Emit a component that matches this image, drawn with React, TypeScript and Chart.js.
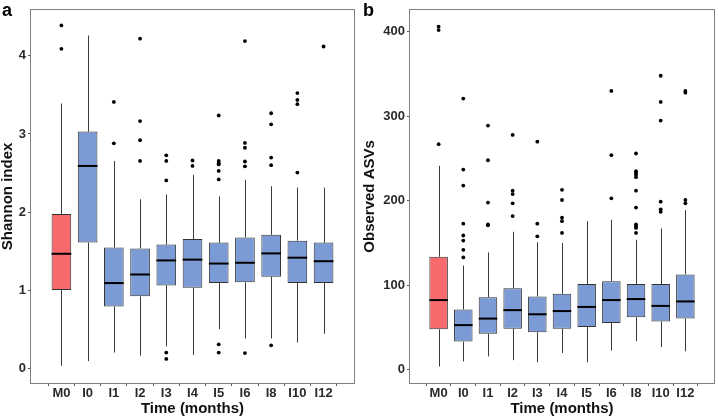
import { useEffect, useRef } from 'react';
import { Chart, registerables } from 'chart.js';
Chart.register(...registerables);

const FONT = '"Liberation Sans", Arial, sans-serif';

const categories = ['M0', 'I0', 'I1', 'I2', 'I3', 'I4', 'I5', 'I6', 'I8', 'I10', 'I12'];
const boxColors = ['#F8696B', '#7B9BD6', '#7B9BD6', '#7B9BD6', '#7B9BD6', '#7B9BD6', '#7B9BD6', '#7B9BD6', '#7B9BD6', '#7B9BD6', '#7B9BD6'];

// Panel a: Shannon index
const shannonLow = [0.03, 0.09, 0.2, 0.16, 0.28, 0.17, 0.5, 0.38, 0.38, 0.33, 0.44];
const shannonQ1 = [1.0, 1.61, 0.79, 0.92, 1.06, 1.03, 1.09, 1.1, 1.17, 1.09, 1.09];
const shannonMedian = [1.465, 2.59, 1.09, 1.2, 1.38, 1.39, 1.34, 1.35, 1.47, 1.415, 1.37];
const shannonQ3 = [1.975, 3.03, 1.545, 1.533, 1.583, 1.653, 1.608, 1.674, 1.708, 1.633, 1.608];
const shannonHigh = [3.39, 4.26, 2.655, 2.163, 2.225, 2.476, 2.2, 2.413, 2.33, 2.313, 2.313];
const shannonOutliers = [
  [4.39, 4.09],
  [],
  [3.41, 2.88],
  [4.22, 3.165, 2.92, 2.655],
  [2.726, 2.655, 2.405, 0.2, 0.118],
  [2.66, 2.59],
  [3.236, 2.655, 2.626, 2.61, 2.526, 2.417, 0.305, 0.2],
  [4.19, 2.885, 2.823, 2.647, 2.585, 0.193],
  [3.265, 3.123, 2.697, 2.6, 0.293],
  [3.524, 3.436, 3.381, 2.505],
  [4.12],
];
const shannonTicks = [0, 1, 2, 3, 4];

// Panel b: Observed ASVs
const asvLow = [4, 10, 16, 11.5, 9, 20, 9, 23, 34, 27, 22];
const asvQ1 = [48, 33.5, 42.7, 48.8, 44.5, 48.8, 50.8, 55.4, 62.3, 57.2, 60.7];
const asvMedian = [82.6, 53, 60.7, 70.7, 65.8, 69.6, 74.5, 82.6, 83.8, 75.7, 81];
const asvQ3 = [133.8, 71.5, 86, 96.5, 86.9, 90, 101.5, 105, 101.5, 101.5, 113];
const asvHigh = [241.5, 123.5, 139, 163.4, 151, 150.3, 176, 177.7, 154, 167.3, 189];
const asvOutliers = [
  [406, 402, 267],
  [321, 237, 218, 173, 159, 153, 142, 133],
  [289, 248, 198, 172, 171],
  [278, 212, 208, 197, 182],
  [270, 173, 158],
  [213, 201, 180, 176, 162],
  [],
  [330, 254, 203],
  [256, 235, 233, 231, 228, 212, 192, 172, 170, 168, 162],
  [348, 317, 295, 199, 190, 187],
  [330, 328, 201, 197],
];
const asvTicks = [0, 100, 200, 300, 400];

const boxExtras = {
  id: 'boxExtras',
  beforeDatasetsDraw(chart: any, _a: any, opts: any) {
    const { ctx } = chart;
    const x = chart.scales.x;
    const y = chart.scales.y;
    ctx.save();
    ctx.strokeStyle = '#3a3a3a';
    ctx.lineWidth = 1;
    opts.low.forEach((lo: number, i: number) => {
      const px = Math.round(x.getPixelForValue(i)) + 0.5;
      ctx.beginPath();
      ctx.moveTo(px, y.getPixelForValue(opts.q1[i]));
      ctx.lineTo(px, y.getPixelForValue(lo));
      ctx.moveTo(px, y.getPixelForValue(opts.q3[i]));
      ctx.lineTo(px, y.getPixelForValue(opts.high[i]));
      ctx.stroke();
    });
    ctx.restore();
  },
  afterDatasetsDraw(chart: any, _a: any, opts: any) {
    const { ctx } = chart;
    const y = chart.scales.y;
    const meta = chart.getDatasetMeta(0);
    ctx.save();
    ctx.strokeStyle = '#000';
    ctx.lineWidth = 2;
    meta.data.forEach((bar: any, i: number) => {
      const { x: cx, width } = bar.getProps(['x', 'width'], true);
      const py = y.getPixelForValue(opts.median[i]);
      ctx.beginPath();
      ctx.moveTo(cx - width / 2, py);
      ctx.lineTo(cx + width / 2, py);
      ctx.stroke();
    });
    ctx.restore();
  },
  afterDraw(chart: any, _a: any, opts: any) {
    const { ctx, chartArea } = chart;
    ctx.save();
    ctx.strokeStyle = '#7f7f7f';
    ctx.lineWidth = 1;
    ctx.strokeRect(
      Math.round(chartArea.left) - 0.5,
      Math.round(chartArea.top) - 0.5,
      Math.round(chartArea.right - chartArea.left) + 1,
      Math.round(chartArea.bottom - chartArea.top) + 1
    );
    ctx.fillStyle = '#000';
    ctx.font = `bold 18px ${FONT}`;
    ctx.textBaseline = 'alphabetic';
    ctx.fillText(opts.letter, opts.letterX, opts.letterY);
    ctx.restore();
  },
};

type PanelProps = {
  low: number[]; q1: number[]; median: number[]; q3: number[]; high: number[];
  outliers: number[][]; ticks: number[]; yMin: number; yMax: number;
  yTitle: string; letter: string; axisWidth: number; padRight: number; titlePad: number;
};

function BoxPanel(p: PanelProps) {
  const ref = useRef<HTMLCanvasElement | null>(null);
  useEffect(() => {
    if (!ref.current) return;
    const points: { x: number; y: number }[] = [];
    p.outliers.forEach((arr, i) => arr.forEach((v) => points.push({ x: i, y: v })));
    const tickFont = { family: FONT, size: 13, weight: 'bold' as const };
    const titleFont = { family: FONT, size: 15, weight: 'bold' as const, lineHeight: 1 };
    const chart = new Chart(ref.current, {
      type: 'bar',
      data: {
        datasets: [
          {
            type: 'bar',
            data: categories.map((_, i) => ({ x: i, y: [p.q1[i], p.q3[i]] })) as any,
            backgroundColor: boxColors,
            borderColor: '#333',
            borderWidth: 1,
            borderSkipped: false,
            barPercentage: 0.75,
            categoryPercentage: 1,
          } as any,
          {
            type: 'scatter',
            data: points,
            pointRadius: 1.9,
            backgroundColor: '#000',
            borderWidth: 0,
          } as any,
        ],
      },
      plugins: [boxExtras],
      options: {
        animation: false,
        responsive: false,
        maintainAspectRatio: false,
        layout: { padding: { top: 1, right: p.padRight, left: 0, bottom: 0 } },
        plugins: {
          legend: { display: false },
          tooltip: { enabled: false },
          boxExtras: {
            low: p.low, q1: p.q1, median: p.median, q3: p.q3, high: p.high,
            letter: p.letter, letterX: p.letter === 'a' ? 2 : 4, letterY: 16,
          },
        } as any,
        scales: {
          x: {
            type: 'linear',
            min: -0.6,
            max: 10.6,
            afterBuildTicks: (s: any) => {
              s.ticks = categories.map((_, i) => ({ value: i }));
            },
            afterFit: (s: any) => {
              s.height = 35;
            },
            ticks: {
              callback: (v: any) => categories[v as number] ?? '',
              font: tickFont,
              color: '#2b2b2b',
              padding: 0,
              autoSkip: false,
              maxRotation: 0,
            },
            grid: { drawOnChartArea: false, tickLength: 3, color: '#555' },
            border: { display: false },
            title: {
              display: true,
              text: 'Time (months)',
              font: titleFont,
              color: '#111',
              padding: { top: 0, bottom: 2 },
            },
          },
          y: {
            type: 'linear',
            min: p.yMin,
            max: p.yMax,
            afterBuildTicks: (s: any) => {
              s.ticks = p.ticks.map((v) => ({ value: v }));
            },
            afterFit: (s: any) => {
              s.width = p.axisWidth;
            },
            ticks: {
              font: tickFont,
              color: '#2b2b2b',
              padding: 2,
            },
            grid: { drawOnChartArea: false, tickLength: 3, color: '#555' },
            border: { display: false },
            title: {
              display: true,
              text: p.yTitle,
              font: titleFont,
              color: '#111',
              padding: { top: p.titlePad, bottom: 0 },
            },
          },
        },
      } as any,
    });
    return () => chart.destroy();
  }, []);
  return <canvas ref={ref} width={359} height={418} style={{ display: 'block', width: 359, height: 418 }} />;
}

export default function App() {
  return (
    <div style={{ position: 'absolute', left: 0, top: 0, width: 718, height: 418, background: '#fff', display: 'flex' }}>
      <BoxPanel
        low={shannonLow} q1={shannonQ1} median={shannonMedian} q3={shannonQ3} high={shannonHigh}
        outliers={shannonOutliers} ticks={shannonTicks} yMin={-0.19} yMax={4.59}
        yTitle="Shannon index" letter="a" axisWidth={31} padRight={5} titlePad={0.5}
      />
      <BoxPanel
        low={asvLow} q1={asvQ1} median={asvMedian} q3={asvQ3} high={asvHigh}
        outliers={asvOutliers} ticks={asvTicks} yMin={-15.5} yMax={426}
        yTitle="Observed ASVs" letter="b" axisWidth={51} padRight={3} titlePad={3.5}
      />
    </div>
  );
}
